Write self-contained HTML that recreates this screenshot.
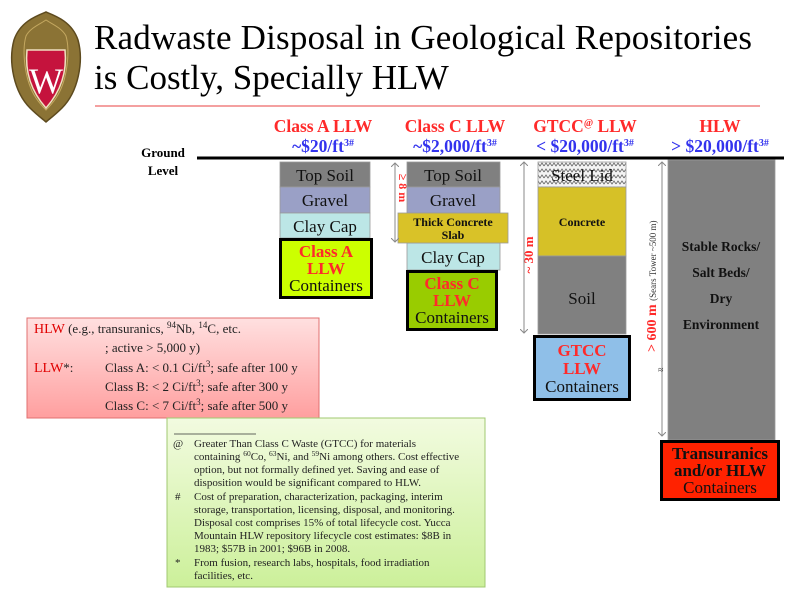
<!DOCTYPE html>
<html><head><meta charset="utf-8"><style>
html,body{margin:0;padding:0;background:#fff;}
svg{display:block;}
text{font-family:"Liberation Serif",serif;}
</style></head><body>
<svg width="800" height="600" viewBox="0 0 800 600" xmlns="http://www.w3.org/2000/svg">
<defs>
<pattern id="zz" width="8" height="6" patternUnits="userSpaceOnUse">
<rect width="8" height="6" fill="#f4f4f4"/>
<path d="M0 4 L2 1 L4 4 L6 1 L8 4" fill="none" stroke="#666" stroke-width="0.8"/>
</pattern>
<linearGradient id="pk" x1="0" y1="0" x2="0" y2="1"><stop offset="0" stop-color="#ffe0e0"/><stop offset="1" stop-color="#ff9f9f"/></linearGradient>
<linearGradient id="gr" x1="0" y1="0" x2="0" y2="1"><stop offset="0" stop-color="#f2fbe0"/><stop offset="1" stop-color="#ccf09a"/></linearGradient>
<marker id="ah" markerWidth="8" markerHeight="8" refX="4" refY="4" orient="auto-start-reverse" markerUnits="userSpaceOnUse"><path d="M0 0 L4 4 L0 8" fill="none" stroke="#888" stroke-width="1"/></marker>
</defs>
<!-- logo -->
<path d="M46 12 C36 16 20 22 14 40 C8 62 14 92 30 108 C38 116 44 120 46 122 C48 120 54 116 62 108 C78 92 84 62 78 40 C72 22 56 16 46 12 Z" fill="#8b7335" stroke="#5d4a1e" stroke-width="1.5"/>
<path d="M46 20 C40 24 30 28 26 36 C22 50 24 80 36 98 C40 104 44 108 46 110 C48 108 52 104 56 98 C68 80 70 50 66 36 C62 28 52 24 46 20 Z" fill="none" stroke="#c4a860" stroke-width="1"/>
<path d="M27 50 L65 50 C67 70 62 90 46 108 C30 90 25 70 27 50 Z" fill="#c5133d" stroke="#f0e0c0" stroke-width="1.5"/>
<text x="46" y="93" font-size="36" fill="#fff" text-anchor="middle">W</text>
<!-- title -->
<text x="94" y="49" font-size="35" fill="#000" textLength="658" lengthAdjust="spacing">Radwaste Disposal in Geological Repositories</text>
<text x="94" y="89" font-size="35" fill="#000">is Costly, Specially HLW</text>
<line x1="95" y1="106" x2="760" y2="106" stroke="#f08080" stroke-width="1.5"/>
<!-- headers -->
<g font-weight="bold" font-size="17.5" text-anchor="middle">
<text x="323" y="132" fill="#ff2a2a">Class A LLW</text>
<text x="455" y="132" fill="#ff2a2a">Class C LLW</text>
<text x="585" y="132" fill="#ff2a2a">GTCC<tspan font-size="10" dy="-6">@</tspan><tspan dy="6"> LLW</tspan></text>
<text x="720" y="132" fill="#ff2a2a">HLW</text>
<text x="323" y="152" fill="#3333ee">~$20/ft<tspan font-size="10" dy="-6">3#</tspan></text>
<text x="455" y="152" fill="#3333ee">~$2,000/ft<tspan font-size="10" dy="-6">3#</tspan></text>
<text x="585" y="152" fill="#3333ee">&lt; $20,000/ft<tspan font-size="10" dy="-6">3#</tspan></text>
<text x="720" y="152" fill="#3333ee">&gt; $20,000/ft<tspan font-size="10" dy="-6">3#</tspan></text>
</g>
<text x="163" y="157" font-size="13" font-weight="bold" text-anchor="middle">Ground</text>
<text x="163" y="175" font-size="13" font-weight="bold" text-anchor="middle">Level</text>
<g stroke="#999" stroke-width="0.8">
<rect x="280" y="162" width="90" height="25" fill="#808080"/>
<rect x="280" y="187" width="90" height="26" fill="#9aa0c6"/>
<rect x="280" y="213" width="90" height="25" fill="#bce6e6"/>
<rect x="407" y="162" width="93" height="25" fill="#808080"/>
<rect x="407" y="187" width="93" height="26" fill="#9aa0c6"/>
<rect x="407" y="243" width="93" height="27" fill="#bce6e6"/>
<rect x="538" y="162" width="88" height="25" fill="url(#zz)"/>
<rect x="538" y="187" width="88" height="69" fill="#d6c127"/>
<rect x="538" y="256" width="88" height="78" fill="#808080"/>
<rect x="668" y="160" width="107" height="280" fill="#808080"/>
<rect x="398" y="213" width="110" height="30" fill="#d9c228"/>
</g>
<g font-size="17" text-anchor="middle" fill="#111">
<text x="325" y="181">Top Soil</text>
<text x="325" y="206">Gravel</text>
<text x="325" y="232">Clay Cap</text>
<text x="453" y="181">Top Soil</text>
<text x="453" y="206">Gravel</text>
<text x="453" y="263">Clay Cap</text>
<text x="582" y="181">Steel Lid</text>
<text x="582" y="304">Soil</text>
</g>
<g font-size="12" font-weight="bold" text-anchor="middle" fill="#111">
<text x="453" y="226">Thick Concrete</text>
<text x="453" y="239">Slab</text>
<text x="582" y="226">Concrete</text>
</g>
<g font-size="13.5" font-weight="bold" text-anchor="middle" fill="#111">
<text x="721" y="251">Stable Rocks/</text>
<text x="721" y="277">Salt Beds/</text>
<text x="721" y="303">Dry</text>
<text x="721" y="329">Environment</text>
</g>
<!-- containers -->
<rect x="280.5" y="239.5" width="91" height="58" fill="#ccff00" stroke="#000" stroke-width="3"/>
<rect x="407.5" y="271.5" width="89" height="58" fill="#99cc00" stroke="#000" stroke-width="3"/>
<rect x="534.5" y="336.5" width="95" height="63" fill="#8fbfe8" stroke="#000" stroke-width="3"/>
<rect x="661.5" y="441.5" width="117" height="58" fill="#ff2200" stroke="#000" stroke-width="3"/>
<g font-size="17" text-anchor="middle">
<text x="326" y="257" fill="#ff2a2a" font-weight="bold">Class A</text>
<text x="326" y="274" fill="#ff2a2a" font-weight="bold">LLW</text>
<text x="326" y="291" fill="#111">Containers</text>
<text x="452" y="289" fill="#ff2a2a" font-weight="bold">Class C</text>
<text x="452" y="306" fill="#ff2a2a" font-weight="bold">LLW</text>
<text x="452" y="323" fill="#111">Containers</text>
<text x="582" y="356" fill="#ff2a2a" font-weight="bold">GTCC</text>
<text x="582" y="374" fill="#ff2a2a" font-weight="bold">LLW</text>
<text x="582" y="392" fill="#111">Containers</text>
<text x="720" y="459" fill="#111" font-weight="bold">Transuranics</text>
<text x="720" y="476" fill="#111" font-weight="bold">and/or HLW</text>
<text x="720" y="493" fill="#111">Containers</text>
</g>
<line x1="197" y1="158" x2="784" y2="158" stroke="#000" stroke-width="3"/>
<g stroke="#888" stroke-width="1">
<line x1="395" y1="163" x2="395" y2="242" marker-start="url(#ah)" marker-end="url(#ah)"/>
<line x1="524" y1="162" x2="524" y2="333" marker-start="url(#ah)" marker-end="url(#ah)"/>
<line x1="662" y1="162" x2="662" y2="436" marker-start="url(#ah)" marker-end="url(#ah)"/>
</g>
<text transform="translate(399,188) rotate(90)" font-size="12" font-weight="bold" fill="#ff2a2a" text-anchor="middle">≥ 8 m</text>
<text transform="translate(533,255) rotate(-90)" font-size="13" font-weight="bold" fill="#ff2a2a" text-anchor="middle">~ 30 m</text>
<text transform="translate(656,352) rotate(-90)" font-size="14" font-weight="bold" fill="#ff2a2a">&gt; 600 m <tspan font-size="9" font-weight="normal" fill="#333">(Sears Tower ~500 m)</tspan></text>
<text x="658" y="373" font-size="10" fill="#333">≈</text>
<!-- pink box -->
<rect x="27" y="318" width="292" height="100" fill="url(#pk)" stroke="#e07070" stroke-width="1"/>
<g font-size="13" fill="#222">
<text x="34" y="333"><tspan fill="#e00000" font-size="14">HLW</tspan> (e.g., transuranics, <tspan font-size="9" dy="-5">94</tspan><tspan dy="5">Nb, </tspan><tspan font-size="9" dy="-5">14</tspan><tspan dy="5">C, etc.</tspan></text>
<text x="105" y="352">; active &gt; 5,000 y)</text>
<text x="34" y="372"><tspan fill="#e00000" font-size="14">LLW</tspan>*:</text>
<text x="105" y="372">Class A: &lt; 0.1 Ci/ft<tspan font-size="9" dy="-5">3</tspan><tspan dy="5">; safe after 100 y</tspan></text>
<text x="105" y="391">Class B: &lt; 2 Ci/ft<tspan font-size="9" dy="-5">3</tspan><tspan dy="5">; safe after 300 y</tspan></text>
<text x="105" y="410">Class C: &lt; 7 Ci/ft<tspan font-size="9" dy="-5">3</tspan><tspan dy="5">; safe after 500 y</tspan></text>
</g>
<!-- green box -->
<rect x="167" y="418" width="318" height="169" fill="url(#gr)" stroke="#a0c870" stroke-width="1"/>
<line x1="174" y1="434" x2="256" y2="434" stroke="#333" stroke-width="0.8"/>
<g font-size="11" fill="#222">
<text x="173" y="447">@</text>
<text x="194" y="447">Greater Than Class C Waste (GTCC)  for materials</text>
<text x="194" y="460">containing <tspan font-size="7.5" dy="-4">60</tspan><tspan dy="4">Co, </tspan><tspan font-size="7.5" dy="-4">63</tspan><tspan dy="4">Ni, and </tspan><tspan font-size="7.5" dy="-4">59</tspan><tspan dy="4">Ni among others. Cost effective</tspan></text>
<text x="194" y="473">option, but not formally defined yet. Saving and ease of</text>
<text x="194" y="486">disposition would be significant compared to HLW.</text>
<text x="175" y="500">#</text>
<text x="194" y="500">Cost of preparation, characterization, packaging, interim</text>
<text x="194" y="513">storage, transportation, licensing, disposal, and monitoring.</text>
<text x="194" y="526">Disposal cost comprises 15% of total lifecycle cost.  Yucca</text>
<text x="194" y="539">Mountain HLW repository lifecycle cost estimates: $8B in</text>
<text x="194" y="552">1983; $57B in 2001; $96B in 2008.</text>
<text x="175" y="566">*</text>
<text x="194" y="566">From fusion, research labs, hospitals, food irradiation</text>
<text x="194" y="579">facilities, etc.</text>
</g>
</svg>
</body></html>
